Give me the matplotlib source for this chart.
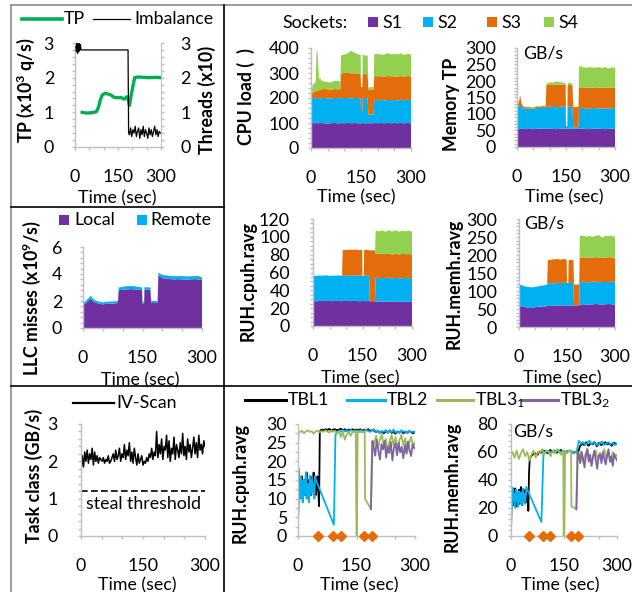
import matplotlib
matplotlib.use('Agg')
import matplotlib.pyplot as plt
from matplotlib.lines import Line2D
from matplotlib.patches import Rectangle
from matplotlib.ticker import MultipleLocator, FixedLocator

# ---------------- data ----------------
# top-left: throughput and imbalance
tp_t = [25, 40, 60, 75, 82, 88, 95, 105, 115, 125, 135, 145, 160, 172, 180, 186, 190, 196, 202, 208,
        220, 240, 260, 280, 300]
tp_vals = [1.0, 0.98, 0.99, 1.02, 1.15, 1.35, 1.5, 1.55, 1.53, 1.5, 1.44, 1.42, 1.43, 1.38, 1.45, 1.35,
           1.2, 1.5, 1.75, 2.0, 2.02, 2.01, 2.0, 2.01, 2.0]
imb_t = [3, 5, 7, 9, 11, 13, 15, 17, 19, 21, 185, 187] + list(range(190, 301, 4))
imb_vals = [2.9, 2.75, 3.0, 2.7, 2.95, 2.75, 3.0, 2.8, 2.95, 2.8, 2.8, 0.4,
            0.35, 0.55, 0.3, 0.5, 0.4, 0.6, 0.3, 0.45, 0.55, 0.25,
            0.5, 0.35, 0.6, 0.3, 0.5, 0.4, 0.25, 0.55, 0.35, 0.5,
            0.3, 0.45, 0.6, 0.35, 0.5, 0.3, 0.45, 0.4]

# socket stacks (shared time grid)
sock_t = [0, 5, 8, 10, 14, 17, 20, 24, 27, 30,
          40, 50, 60, 70, 80, 88, 90, 100, 110, 120,
          130, 140, 149, 150, 154, 155, 160, 170, 172, 186,
          188, 190, 200, 210, 220, 230, 240, 250, 260, 270,
          280, 290, 300]
sockets = ['S1', 'S2', 'S3', 'S4']

cpu_s1 = [99, 100, 99, 100, 99, 100, 99, 100, 99, 100,
          99, 98, 99, 100, 99, 99, 100, 99, 100, 99,
          100, 99, 99, 99, 99, 100, 99, 99, 99, 99,
          99, 100, 99, 100, 99, 100, 99, 100, 99, 100,
          99, 100, 99]
cpu_s2 = [98, 100, 101, 100, 99, 100, 101, 100, 99, 100,
          101, 100, 99, 100, 101, 100, 100, 101, 100, 99,
          100, 101, 100, 45, 45, 100, 101, 100, 35, 35,
          35, 93, 92, 93, 91, 92, 93, 92, 91, 93,
          92, 93, 92]
cpu_s3 = [15, 20, 25, 25, 28, 30, 30, 32, 33, 35,
          36, 37, 35, 36, 35, 36, 98, 100, 100, 101,
          99, 98, 98, 100, 100, 95, 96, 95, 100, 100,
          100, 95, 96, 94, 95, 96, 95, 94, 96, 95,
          94, 95, 95]
cpu_s4 = [5, 30, 35, 30, 40, 163, 150, 40, 55, 35,
          30, 28, 30, 32, 33, 32, 72, 74, 78, 90,
          82, 78, 75, 0, 0, 78, 75, 75, 8, 10,
          10, 88, 90, 86, 89, 92, 87, 90, 88, 91,
          86, 89, 88]

mem_s1 = [55, 55, 54, 55, 56, 55, 54, 55, 55, 54,
          55, 54, 55, 56, 55, 55, 55, 56, 55, 54,
          55, 56, 55, 55, 55, 55, 56, 55, 55, 55,
          55, 55, 56, 55, 54, 55, 56, 55, 55, 54,
          55, 56, 55]
mem_s2 = [72, 70, 68, 70, 66, 65, 62, 63, 60, 62,
          61, 62, 63, 62, 64, 63, 66, 67, 66, 67,
          66, 67, 66, 8, 8, 66, 67, 66, 5, 5,
          5, 62, 63, 61, 62, 63, 62, 61, 63, 62,
          61, 62, 63]
mem_s3 = [3, 8, 25, 30, 10, 6, 5, 4, 5, 5,
          4, 3, 4, 4, 5, 5, 66, 67, 66, 68,
          67, 66, 67, 0, 0, 65, 66, 65, 61, 61,
          61, 63, 62, 64, 63, 62, 63, 64, 62, 63,
          64, 62, 63]
mem_s4 = [0, 2, 3, 2, 1, 1, 2, 1, 1, 1,
          2, 1, 2, 1, 2, 1, 4, 6, 8, 10,
          8, 7, 5, 0, 0, 5, 6, 5, 0, 0,
          0, 65, 62, 60, 63, 61, 59, 62, 60, 63,
          58, 61, 60]

llc_local = [1.75, 1.8, 1.85, 1.9, 2.0, 2.1, 2.2, 2.0, 1.95, 1.9,
             1.8, 1.75, 1.8, 1.8, 1.82, 1.85, 2.8, 2.82, 2.85, 2.88,
             2.86, 2.84, 2.8, 1.8, 1.8, 2.82, 2.84, 2.8, 1.85, 1.85,
             1.85, 3.9, 3.7, 3.65, 3.62, 3.6, 3.62, 3.6, 3.58, 3.6,
             3.62, 3.6, 3.55]
llc_remote = [0.15, 0.15, 0.18, 0.2, 0.2, 0.2, 0.2, 0.2, 0.18, 0.16,
              0.15, 0.15, 0.15, 0.16, 0.15, 0.15, 0.2, 0.22, 0.25, 0.22,
              0.24, 0.2, 0.2, 0.15, 0.15, 0.2, 0.18, 0.2, 0.15, 0.15,
              0.15, 0.2, 0.22, 0.25, 0.23, 0.24, 0.22, 0.25, 0.24, 0.23,
              0.22, 0.25, 0.2]

rcpu_s1 = [28, 28, 27.5, 28, 27.8, 28, 28.2, 28, 27.8, 28,
           28.2, 28, 27.9, 28.1, 28, 27.8, 28, 28.2, 27.9, 28,
           28.1, 27.8, 28, 28, 28, 28, 27.9, 28, 27.8, 27.8,
           27.8, 27.5, 27.3, 27.5, 27.2, 27.4, 27.1, 27.3, 27.0, 27.2,
           27.1, 27.3, 27.0]
rcpu_s2 = [28, 28.5, 28.3, 28.6, 28.2, 28.8, 28.4, 28.6, 28.3, 28.5,
           28.7, 28.2, 28.6, 28.4, 28.8, 28.5, 28.3, 28.6, 28.4, 28.7,
           28.5, 28.6, 28.4, 28.5, 28.5, 28.6, 28.4, 28.5, 0, 0,
           0, 26.5, 26.8, 26.2, 26.6, 26.9, 26.3, 26.7, 26.5, 26.4,
           26.8, 26.3, 26.6]
rcpu_s3 = [0, 0, 0, 0, 0, 0, 0, 0, 0, 0,
           0, 0, 0, 0, 0, 0, 29, 28.5, 29.2, 28.8,
           29, 28.6, 29, 0, 0, 28.8, 29, 28.7, 57, 57,
           57, 27, 26.5, 27.2, 26.8, 27.1, 26.6, 27, 26.9, 27.2,
           26.7, 27, 26.8]
rcpu_s4 = [0, 0, 0, 0, 0, 0, 0, 0, 0, 0,
           0, 0, 0, 0, 0, 0, 0, 0, 0, 0,
           0, 0, 0, 0, 0, 0, 0, 0, 0, 0,
           0, 26, 25.5, 26.5, 25, 26.2, 25.8, 26.4, 25.3, 26,
           25.6, 26.3, 25.5]

rmem_s1 = [58, 58, 57, 57, 56, 56, 55, 54, 54, 53,
           53, 55, 56, 57, 57, 58, 58, 59, 59, 60,
           60, 60, 60, 60, 60, 60, 60, 60, 60, 60,
           60, 62, 63, 63, 62, 63, 64, 63, 62, 63,
           64, 63, 62]
rmem_s2 = [58, 59, 60, 58, 59, 58, 57, 58, 57, 58,
           57, 56, 57, 58, 59, 60, 62, 63, 62, 63,
           62, 63, 62, 62, 62, 62, 63, 62, 0, 0,
           0, 62, 63, 61, 62, 63, 62, 61, 63, 62,
           61, 63, 62]
rmem_s3 = [0, 0, 0, 0, 0, 0, 0, 0, 0, 0,
           0, 0, 0, 0, 0, 0, 66, 65, 67, 66,
           65, 66, 65, 0, 0, 63, 64, 63, 58, 58,
           58, 68, 67, 69, 68, 67, 68, 69, 67, 68,
           69, 67, 68]
rmem_s4 = [0, 0, 0, 0, 0, 0, 0, 0, 0, 0,
           0, 0, 0, 0, 0, 0, 0, 0, 0, 0,
           0, 0, 0, 0, 0, 0, 0, 0, 0, 0,
           0, 62, 60, 58, 61, 57, 60, 62, 56, 60,
           58, 61, 57]

# bottom-left: task class
iv_t = list(range(0, 301, 3))
iv_vals = [1.75, 2.15, 1.85, 2.25, 2.0, 2.3, 1.95, 2.2, 2.05, 2.35,
           1.9, 2.25, 2.0, 2.15, 1.95, 2.1, 2.05, 2.0, 2.1, 1.95,
           2.05, 2.0, 2.15, 1.95, 2.0, 2.1, 2.2, 2.0, 2.3, 2.05,
           2.15, 2.35, 2.0, 2.2, 2.1, 2.45, 2.05, 2.3, 2.15, 2.5,
           2.0, 2.25, 1.95, 2.35, 2.1, 1.9, 2.2, 1.95, 2.05, 2.15,
           1.9, 2.0, 1.95, 2.1, 2.0, 2.2, 2.1, 2.35, 2.05, 2.25,
           2.15, 2.8, 2.1, 2.45, 2.2, 2.6, 2.05, 2.4, 2.3, 2.7,
           2.1, 2.55, 2.0, 2.35, 2.2, 2.65, 2.05, 2.45, 2.3, 2.1,
           2.5, 2.2, 2.75, 2.15, 2.4, 2.05, 2.6, 2.25, 2.45, 2.1,
           2.35, 2.65, 2.2, 2.5, 2.1, 2.7, 2.3, 2.45, 2.2, 2.55,
           2.4]
steal_threshold = 1.2

# bottom-right: per-table RUH
tables = ['TBL1', 'TBL2', 'TBL3$_1$', 'TBL3$_2$']
steal_t = [50, 90, 110, 170, 190]
steal_y = [0, 0, 0, 0, 0]

c_tbl1_t = [0, 2] + list(range(4, 51, 2)) + [52, 54, 56] + list(range(60, 301, 5))
c_tbl1 = [3, 14,
          12, 15, 11, 16, 10, 13, 15, 11, 14, 17, 12, 10, 15, 13, 16, 11, 14, 12, 17, 13, 15, 11, 14, 16,
          12, 8, 28,
          28.5, 28.3, 28.6, 28.4, 28.7, 28.2, 28.5, 28.6, 28.3, 28.5, 28.7, 28.4, 28.6, 28.2, 28.5, 28.4,
          28.6, 28.3, 28.5,
          28.4, 28.6, 28.2, 28.5, 28.3, 28.6, 28.1, 28.4, 28.2, 27.8, 28.2, 27.6, 28.0, 27.5, 28.1, 27.7,
          28.3, 27.6, 27.9, 27.4, 28.0, 27.7, 28.2, 27.5, 27.9, 27.6, 28.1, 27.8, 27.5, 27.9]
c_tbl2_t = [0, 2] + list(range(4, 45, 2)) + [46, 92, 96] + list(range(100, 301, 5))
c_tbl2 = [3, 18,
          14, 10, 16, 12, 9, 15, 11, 13, 17, 10, 12, 14, 9, 16, 11, 13, 15, 12, 14, 10, 16,
          15, 3, 27,
          27.8, 28.2, 27.9, 28.4, 28.0, 28.3, 27.7, 28.5, 28.1, 27.9, 28.3, 28.0, 28.4, 27.8, 28.2, 28.5,
          28.1, 27.9, 28.3,
          28.6, 27.8, 28.3, 27.5, 28.1, 27.9, 28.4, 27.6, 28.2, 27.8, 28.5, 27.7, 28.0, 27.6, 28.3, 27.9,
          28.1, 27.5, 28.2, 27.8, 28.0, 27.7]
c_tbl31_t = ([0, 2] + list(range(5, 146, 5)) + [148, 150, 151, 153]
             + [158, 163, 168, 171, 172, 187, 190] + list(range(195, 301, 5)))
c_tbl31 = [25, 28,
           27.8, 28.2, 27.5, 28.0, 28.3, 27.9, 28.1, 27.4, 28.0, 28.2, 27.8, 28.1, 27.9, 28.3, 28.0,
           27.7, 28.2, 27.9, 28.1, 27.6, 28.0, 26.5, 27.8, 25.8, 27.2, 28.0, 26.8, 27.9, 28.1,
           28.0, 0, 0, 28.0,
           27.8, 28.1, 27.9, 28.0, 10, 7.2, 25,
           24.5, 26.8, 23.5, 25.8, 27.2, 24.0, 26.0, 22.5, 25.5, 27.0, 24.2, 26.5, 23.0, 25.6, 27.1,
           24.4, 26.2, 22.4, 25.0, 26.6, 23.8, 25.2]
c_tbl32_t = [187, 191] + list(range(194, 301, 4))
c_tbl32 = [7.2, 25.5,
           24.0, 21.5, 25.8, 22.8, 20.5, 24.6, 23.2, 25.5, 21.0, 24.0, 22.2, 25.2, 20.2, 23.6,
           24.8, 21.6, 25.0, 22.4, 23.9, 20.8, 24.4, 22.0, 25.3, 23.0, 21.4, 24.6, 23.5]

m_tbl1_t = [0, 2] + list(range(4, 49, 2)) + [49, 51, 53] + list(range(57, 301, 6))
m_tbl1 = [3, 30,
          25, 32, 22, 28, 34, 24, 30, 21, 27, 33, 23, 29, 35, 26, 22, 31, 25, 28, 33, 24, 30, 27, 32,
          18, 45, 55,
          57, 58.5, 59, 58, 60, 59.5, 61, 60, 59, 61.5, 60, 61, 59.5, 60.5, 61.5, 60, 59, 60.5, 61,
          60, 59.5, 60, 59,
          64, 66, 65, 67, 64.5, 66, 65.5, 67, 64, 66.5, 65, 66, 67, 65.5, 66, 64.5, 66.5, 66]
m_tbl2_t = [0, 2] + list(range(4, 43, 2)) + [43, 86, 92] + list(range(96, 301, 6))
m_tbl2 = [5, 35,
          22, 34, 26, 30, 20, 33, 25, 29, 21, 32, 27, 24, 31, 22, 28, 34, 25, 30, 23, 29,
          35, 10, 60,
          60, 61, 60.5, 59.5, 61, 60, 61.5, 60.5, 60, 61, 59.5, 60.5, 61, 60, 59.5, 60.5,
          68, 66, 67, 65, 66.5, 68, 65.5, 67, 66, 64.5, 66.5, 67.5, 65, 66, 67, 65.5, 66.5, 65, 66]
m_tbl31_t = ([0] + list(range(4, 149, 6)) + [149, 151, 153]
             + [158, 164, 170, 171, 185, 188] + list(range(192, 301, 6)))
m_tbl31 = [58,
           60, 56, 61, 55, 59, 62, 57, 60, 54, 58, 61, 56, 60, 59, 62, 58, 61, 60, 57, 61, 59, 62,
           60, 58, 61,
           0, 0, 60,
           59, 61, 60, 21, 19.5, 60,
           55, 60, 53, 58, 62, 56, 52, 59, 61, 54, 58, 57, 62, 55, 59, 53, 60, 56, 58]
m_tbl32_t = [185, 189] + list(range(192, 301, 4))
m_tbl32 = [19, 60,
           58, 52, 60, 55, 49, 57, 62, 53, 58, 50, 56, 61, 54, 48, 57, 59, 52, 60, 55, 51,
           58, 62, 53, 57, 50, 59, 56, 54]

# ---------------- styling ----------------
W, H = 632, 592
plt.rcParams['font.family'] = ['Lato', 'DejaVu Sans']
plt.rcParams['font.size'] = 12.8
plt.rcParams['mathtext.default'] = 'regular'

PURPLE = '#7030A0'
CYAN = '#00B0F0'
ORANGE = '#E46C0A'
LGREEN = '#92D050'
SOCK_COLORS = [PURPLE, CYAN, ORANGE, LGREEN]
TBL_COLORS = ['black', '#00B0F0', '#9BBB59', '#8064A2']
GRAY = '#BFBFBF'

fig = plt.figure(figsize=(W / 100, H / 100), dpi=100)


def fp(x, y):
    # pixel (from top-left) -> figure fraction
    return x / W, 1 - y / H


def make_axes(x0, x1, ytop, ybot, ymax, ymajor, yminor, ypad):
    ax = fig.add_axes([x0 / W, 1 - ybot / H, (x1 - x0) / W, (ybot - ytop) / H])
    ax.patch.set_visible(False)
    ax.set_xlim(0, 300)
    ax.set_ylim(0, ymax)
    for s in ['top', 'right']:
        ax.spines[s].set_visible(False)
    for s in ['left', 'bottom']:
        ax.spines[s].set_color(GRAY)
        ax.spines[s].set_linewidth(1.0)
    ax.xaxis.set_major_locator(FixedLocator([0, 150, 300]))
    ax.xaxis.set_minor_locator(FixedLocator([50, 100, 200, 250]))
    ax.yaxis.set_major_locator(MultipleLocator(ymajor))
    ax.yaxis.set_minor_locator(MultipleLocator(yminor))
    ax.tick_params(which='both', color=GRAY, length=2.5, width=1)
    ax.tick_params(axis='x', pad=13.5)
    ax.tick_params(axis='y', pad=ypad)
    return ax


def ylabel_at(ax, text, x, y, axis=None):
    axis = axis or ax.yaxis
    axis.set_label_text(text, fontweight='bold', va='center', ha='center')
    axis.set_label_coords(*fp(x + 3, y), transform=fig.transFigure)


def xlabel_at(ax, x, y):
    ax.set_xlabel('Time (sec)', va='center', ha='center')
    ax.xaxis.set_label_coords(*fp(x, y + 5), transform=fig.transFigure)


def leg_line(x0, x1, y, color, lw):
    fig.add_artist(Line2D([x0 / W, x1 / W], [1 - y / H, 1 - y / H], color=color, lw=lw,
                          transform=fig.transFigure))


def leg_box(x, y, color, size=10):
    fig.add_artist(Rectangle(fp(x, y + size / 2), size / W, size / H, color=color,
                             transform=fig.transFigure, lw=0))


def leg_text(x, y, text, **kw):
    fig.text(*fp(x, y), text, ha='left', va='center', **kw)


# ---------------- panel borders ----------------
def border(x0, y0, x1, y1, color):
    fig.add_artist(Line2D([x0 / W, x1 / W], [1 - y0 / H, 1 - y1 / H], color=color, lw=1.2,
                          transform=fig.transFigure))


border(11, 5, W, 5, '#8C8C8C')
border(11, 5, 11, H, '#8C8C8C')
border(224, 5, 224, H, 'black')
border(11, 207, 224, 207, 'black')
border(11, 386, W, 386, 'black')

# ---------------- top-left: TP / imbalance ----------------
axA = make_axes(75, 161, 43, 147, 3, 1, 0.2, 12.6)
axA2 = axA.twinx()
axA2.set_ylim(0, 3)
axA2.patch.set_visible(False)
for s in ['top', 'left', 'bottom']:
    axA2.spines[s].set_visible(False)
axA2.spines['right'].set_color(GRAY)
axA2.yaxis.set_major_locator(MultipleLocator(1))
axA2.yaxis.set_minor_locator(MultipleLocator(0.2))
axA2.tick_params(which='both', color=GRAY, length=2.5, width=1, pad=11.2)
axA2.plot(imb_t, imb_vals, color='black', lw=0.9)
axA.plot(tp_t, tp_vals, color='#00B050', lw=2.4, zorder=3)
ylabel_at(axA, 'TP (x10$^3$ q/s)', 23, 90)
ylabel_at(axA2, 'Threads (x10)', 204, 100, axis=axA2.yaxis)
xlabel_at(axA, 117, 193)
leg_line(22, 62, 19, '#00B050', 2.6)
leg_text(64, 19, 'TP')
leg_line(93, 130, 19, 'black', 0.9)
leg_text(134, 19, 'Imbalance')

# ---------------- top-right: CPU load / memory TP ----------------
axB1 = make_axes(311, 411, 48, 148, 400, 100, 20, 6.1)
axB1.stackplot(sock_t, cpu_s1, cpu_s2, cpu_s3, cpu_s4, colors=SOCK_COLORS, lw=0)
ylabel_at(axB1, 'CPU load (  )', 243, 97)
xlabel_at(axB1, 356, 192)

axB2 = make_axes(517, 615, 48, 147, 300, 50, 10, 12.6)
axB2.stackplot(sock_t, mem_s1, mem_s2, mem_s3, mem_s4, colors=SOCK_COLORS, lw=0)
ylabel_at(axB2, 'Memory TP', 449, 104)
xlabel_at(axB2, 564, 192)
axB2.text(0.06, 0.94, 'GB/s', transform=axB2.transAxes, ha='left', va='center')

leg_text(282, 23, 'Sockets:')
for name, color, bx in zip(sockets, SOCK_COLORS, [368, 423, 487, 544]):
    leg_box(bx, 22, color)
    leg_text(bx + 14, 23, name)

# ---------------- middle-left: LLC misses ----------------
axC = make_axes(83, 202, 247, 328, 6, 2, 0.4, 12.6)
axC.stackplot(sock_t, llc_local, llc_remote, colors=[PURPLE, CYAN], lw=0)
ylabel_at(axC, 'LLC misses (x10$^9$/s)', 29, 298)
xlabel_at(axC, 140, 375)
leg_box(59, 220, PURPLE)
leg_text(74, 220, 'Local')
leg_box(137, 220, CYAN)
leg_text(150, 220, 'Remote')

# ---------------- middle-right: RUH stacks ----------------
axD1 = make_axes(313, 412, 219, 326, 120, 20, 5, 14.1)
axD1.stackplot(sock_t, rcpu_s1, rcpu_s2, rcpu_s3, rcpu_s4, colors=SOCK_COLORS, lw=0)
ylabel_at(axD1, 'RUH.cpuh.ravg', 245, 281)
xlabel_at(axD1, 360, 373)

axD2 = make_axes(519, 615, 219, 327, 300, 50, 10, 13.3)
axD2.stackplot(sock_t, rmem_s1, rmem_s2, rmem_s3, rmem_s4, colors=SOCK_COLORS, lw=0)
ylabel_at(axD2, 'RUH.memh.ravg', 451, 284)
xlabel_at(axD2, 562, 373)
axD2.text(0.05, 0.96, 'GB/s', transform=axD2.transAxes, ha='left', va='center')

# ---------------- bottom-left: task class ----------------
axE = make_axes(81, 205, 424, 536, 3, 1, 0.2, 14.1)
axE.plot(iv_t, iv_vals, color='black', lw=1.1)
axE.axhline(steal_threshold, color='black', lw=1.2, ls=(0, (4, 2)))
axE.text(150, 0.85, 'steal threshold', ha='center', va='center')
ylabel_at(axE, 'Task class (GB/s)', 31, 476)
xlabel_at(axE, 137, 580)
leg_line(73, 114, 403, 'black', 1.6)
leg_text(116, 403, 'IV-Scan')

# ---------------- bottom-right: per-table RUH ----------------
axF1 = make_axes(298, 415, 424, 536, 30, 5, 2.5, 5.4)
for tt, vv, color in zip([c_tbl1_t, c_tbl2_t, c_tbl31_t, c_tbl32_t],
                         [c_tbl1, c_tbl2, c_tbl31, c_tbl32], TBL_COLORS):
    axF1.plot(tt, vv, color=color, lw=1.3)
axF1.plot(steal_t, steal_y, 'D', color=ORANGE, ms=5, clip_on=False, zorder=5)
ylabel_at(axF1, 'RUH.cpuh.ravg', 237, 483)
xlabel_at(axF1, 359, 580)

axF2 = make_axes(511, 617, 424, 536, 80, 20, 4, 6.9)
for tt, vv, color in zip([m_tbl1_t, m_tbl2_t, m_tbl31_t, m_tbl32_t],
                         [m_tbl1, m_tbl2, m_tbl31, m_tbl32], TBL_COLORS):
    axF2.plot(tt, vv, color=color, lw=1.3)
axF2.plot(steal_t, steal_y, 'D', color=ORANGE, ms=5, clip_on=False, zorder=5)
ylabel_at(axF2, 'RUH.memh.ravg', 449, 487)
xlabel_at(axF2, 560, 580)
axF2.text(0.02, 0.93, 'GB/s', transform=axF2.transAxes, ha='left', va='center')

for name, color, x0, x1 in zip(tables, TBL_COLORS, [245, 347, 437, 522], [286, 385, 473, 558]):
    leg_line(x0, x1, 400, color, 2.2)
    leg_text(x1 + 2, 400, name)

fig.savefig('out.png', dpi=100)
